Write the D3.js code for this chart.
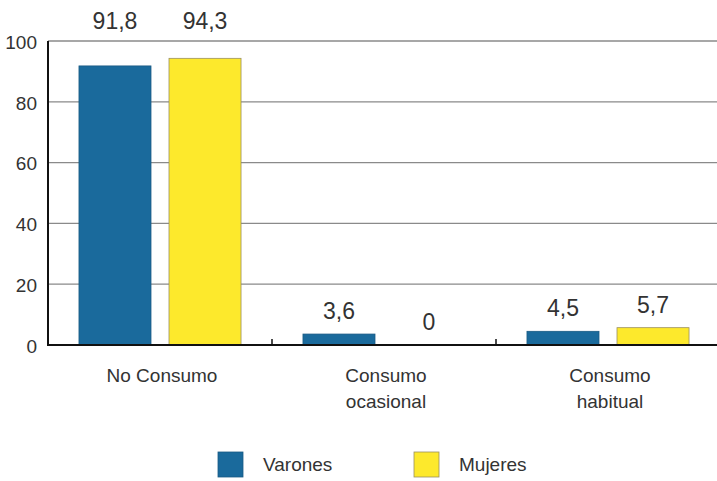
<!DOCTYPE html>
<html>
<head>
<meta charset="utf-8">
<script src="https://cdn.jsdelivr.net/npm/d3@7"></script>
<style>
  html, body { margin: 0; padding: 0; background: #ffffff; }
  svg { display: block; }
  text { font-family: "Liberation Sans", Arial, Helvetica, sans-serif; fill: #333; }
</style>
</head>
<body>
<svg id="chart" width="717" height="481"></svg>
<script>
// Consumption categories (two-line labels split on "\n")
const categories = ["No Consumo", "Consumo\nocasional", "Consumo\nhabitual"];
const seriesNames = ["Varones", "Mujeres"];
const varones = [91.8, 3.6, 4.5];
const mujeres = [94.3, 0, 5.7];
const yTicks = [0, 20, 40, 60, 80, 100];
const colors = ["#1a6a9c", "#fde92c"];

(function draw() {
const svg = d3.select("#chart");
const W = 717;
const plotLeft = 48, plotTop = 41, plotBottom = 345;

const x0 = d3.scaleBand().domain(categories).range([plotLeft, plotLeft + 224 * 3]).paddingInner(0).paddingOuter(0);
const x1 = d3.scaleBand().domain(seriesNames).range([0, x0.bandwidth()]).paddingInner(0.2).paddingOuter(0.344);
const y = d3.scaleLinear().domain([0, 100]).range([plotBottom, plotTop]);
const color = d3.scaleOrdinal().domain(seriesNames).range(colors);

const fmt = v => String(v).replace(".", ",");

// horizontal gridlines
svg.append("g").selectAll("line").data(yTicks.filter(t => t > 0)).join("line")
  .attr("x1", plotLeft).attr("x2", W)
  .attr("y1", d => y(d)).attr("y2", d => y(d))
  .attr("stroke", "#8a8a8a").attr("stroke-width", 1.3);

// y axis labels
const yAxis = d3.axisLeft(y).tickValues(yTicks).tickSize(0).tickPadding(11).tickFormat(d3.format("d"));
const gy = svg.append("g").attr("transform", `translate(${plotLeft},0)`).call(yAxis);
gy.select(".domain").remove();
gy.selectAll("text").style("font-size", "19px").attr("fill", "#333").attr("dy", "0.38em")
  .style("font-family", "'Liberation Sans', Arial, sans-serif");

// bars
const rows = categories.map((c, i) => ({ cat: c, values: [
  { s: "Varones", v: varones[i] }, { s: "Mujeres", v: mujeres[i] } ] }));

const groups = svg.append("g").selectAll("g").data(rows).join("g")
  .attr("transform", d => `translate(${x0(d.cat)},0)`);

groups.selectAll("rect").data(d => d.values).join("rect")
  .attr("x", d => x1(d.s))
  .attr("width", x1.bandwidth())
  .attr("y", d => y(d.v))
  .attr("height", d => y(0) - y(d.v))
  .attr("fill", d => color(d.s))
  .attr("stroke", d => d.s === "Mujeres" ? "#9a9060" : "#1a5a84")
  .attr("stroke-width", 0.8);

// value labels: tall bars get their label above the frame
groups.selectAll("text.val").data(d => d.values).join("text")
  .attr("class", "val")
  .attr("x", d => x1(d.s) + x1.bandwidth() / 2)
  .attr("y", d => d.v > 80 ? y(100) - 12 : y(d.v) - 15)
  .attr("text-anchor", "middle")
  .style("font-size", "23px")
  .text(d => fmt(d.v));

// axis lines
svg.append("line").attr("x1", plotLeft).attr("x2", plotLeft).attr("y1", plotTop).attr("y2", plotBottom + 1)
  .attr("stroke", "#111").attr("stroke-width", 2);
svg.append("line").attr("x1", plotLeft - 1).attr("x2", W).attr("y1", plotBottom).attr("y2", plotBottom)
  .attr("stroke", "#111").attr("stroke-width", 2);

// category separators (short upward ticks)
svg.append("g").selectAll("line").data(categories.slice(1)).join("line")
  .attr("x1", d => x0(d)).attr("x2", d => x0(d))
  .attr("y1", plotBottom).attr("y2", plotBottom - 6)
  .attr("stroke", "#111").attr("stroke-width", 1.5);

// category labels
const cl = svg.append("g").selectAll("text").data(categories).join("text")
  .attr("x", d => x0(d) + x0.bandwidth() / 2 + 2)
  .attr("y", 382)
  .attr("text-anchor", "middle")
  .style("font-size", "19px");
cl.selectAll("tspan").data(d => d.split("\n")).join("tspan")
  .attr("x", function () { return d3.select(this.parentNode).attr("x"); })
  .attr("dy", (d, i) => i === 0 ? 0 : 26)
  .text(d => d);

// legend
const legendX = [218, 414];
const lg = svg.append("g").selectAll("g").data(seriesNames).join("g")
  .attr("transform", (d, i) => `translate(${legendX[i]},452)`);
lg.append("rect").attr("width", 25).attr("height", 25)
  .attr("fill", d => color(d))
  .attr("stroke", d => d === "Mujeres" ? "#9a9060" : "#1a5a84").attr("stroke-width", 0.8);
lg.append("text").attr("x", 45).attr("y", 19).style("font-size", "19px").text(d => d);
})();
</script>
</body>
</html>
